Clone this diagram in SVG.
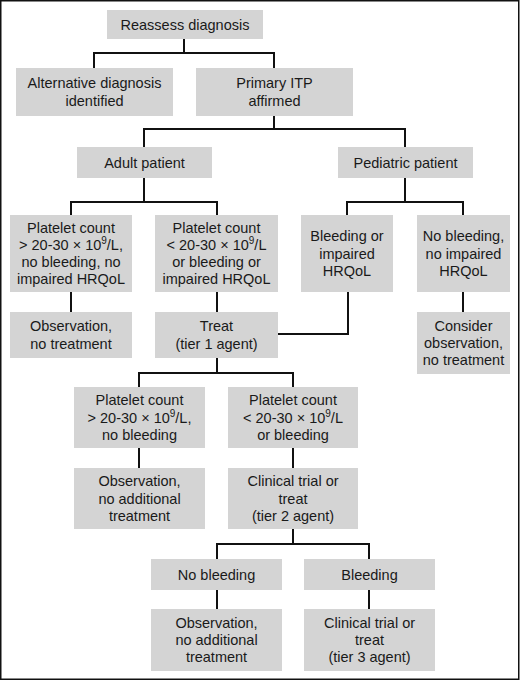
<svg xmlns="http://www.w3.org/2000/svg" width="520" height="681" viewBox="0 0 520 681">
<style>
.box{fill:#d4d4d4;}
.t{font-family:"Liberation Sans",Arial,sans-serif;font-size:14.5px;fill:#1a1a1a;text-anchor:middle;}
.sup{font-size:10px;}
.c{fill:none;stroke:#111;stroke-width:2;}
</style>
<rect x="0.75" y="0.75" width="518" height="678.5" fill="#fff" stroke="#111" stroke-width="1.5"/>
<g id="connectors">
<path class="c" d="M184,39V53M94,68V53H274V68"/>
<path class="c" d="M274,116V129M144,147V129H405V147"/>
<path class="c" d="M144,178V202M71,215V202H217V215"/>
<path class="c" d="M405,178V202M347,215V202H463V215"/>
<path class="c" d="M71,292V312M217,292V312M463,292V312"/>
<path class="c" d="M348,292V334H278"/>
<path class="c" d="M217,358V373M139,387V373H293V387"/>
<path class="c" d="M139,448V468M293,448V468"/>
<path class="c" d="M293,529V544M217,559V544H369V559"/>
<path class="c" d="M217,590V609M369,590V609"/>
</g>
<g id="reassess"><rect class="box" x="107" y="10" width="156" height="29"/><text class="t" x="185" y="29.5">Reassess diagnosis</text></g>
<g id="alternative"><rect class="box" x="16" y="68" width="157" height="48"/><text class="t" x="94.5" y="88.4">Alternative diagnosis</text><text class="t" x="94.5" y="105.7">identified</text></g>
<g id="primary"><rect class="box" x="196" y="68" width="157" height="48"/><text class="t" x="274.5" y="88.4">Primary ITP</text><text class="t" x="274.5" y="105.7">affirmed</text></g>
<g id="adult"><rect class="box" x="77" y="147" width="135" height="31"/><text class="t" x="144.5" y="167.5">Adult patient</text></g>
<g id="pediatric"><rect class="box" x="338" y="147" width="135" height="31"/><text class="t" x="405.5" y="167.5">Pediatric patient</text></g>
<g id="adult-high"><rect class="box" x="10" y="215" width="122" height="77"/>
<text class="t" x="71" y="232.5">Platelet count</text>
<text class="t" x="71" y="249.8">&gt; 20-30 × 10<tspan class="sup" dy="-6">9</tspan><tspan dy="6">/L,</tspan></text>
<text class="t" x="71" y="267.1">no bleeding, no</text>
<text class="t" x="71" y="284.4">impaired HRQoL</text></g>
<g id="adult-low"><rect class="box" x="155" y="215" width="123" height="77"/>
<text class="t" x="216.5" y="232.5">Platelet count</text>
<text class="t" x="216.5" y="249.8">&lt; 20-30 × 10<tspan class="sup" dy="-6">9</tspan><tspan dy="6">/L</tspan></text>
<text class="t" x="216.5" y="267.1">or bleeding or</text>
<text class="t" x="216.5" y="284.4">impaired HRQoL</text></g>
<g id="ped-bleeding"><rect class="box" x="301" y="215" width="92" height="77"/>
<text class="t" x="347" y="241.2">Bleeding or</text>
<text class="t" x="347" y="258.5">impaired</text>
<text class="t" x="347" y="275.8">HRQoL</text></g>
<g id="ped-nobleeding"><rect class="box" x="417" y="215" width="93" height="77"/>
<text class="t" x="463.5" y="241.2">No bleeding,</text>
<text class="t" x="463.5" y="258.5">no impaired</text>
<text class="t" x="463.5" y="275.8">HRQoL</text></g>
<g id="obs1"><rect class="box" x="10" y="312" width="122" height="46"/>
<text class="t" x="71" y="331.4">Observation,</text>
<text class="t" x="71" y="348.7">no treatment</text></g>
<g id="treat1"><rect class="box" x="155" y="312" width="123" height="46"/>
<text class="t" x="216.5" y="331.4">Treat</text>
<text class="t" x="216.5" y="348.7">(tier 1 agent)</text></g>
<g id="consider"><rect class="box" x="417" y="312" width="93" height="62"/>
<text class="t" x="463.5" y="330.7">Consider</text>
<text class="t" x="463.5" y="348">observation,</text>
<text class="t" x="463.5" y="365.3">no treatment</text></g>
<g id="t1-high"><rect class="box" x="74" y="387" width="131" height="61"/>
<text class="t" x="139.5" y="405.2">Platelet count</text>
<text class="t" x="139.5" y="422.5">&gt; 20-30 × 10<tspan class="sup" dy="-6">9</tspan><tspan dy="6">/L,</tspan></text>
<text class="t" x="139.5" y="439.8">no bleeding</text></g>
<g id="t1-low"><rect class="box" x="228" y="387" width="130" height="61"/>
<text class="t" x="293" y="405.2">Platelet count</text>
<text class="t" x="293" y="422.5">&lt; 20-30 × 10<tspan class="sup" dy="-6">9</tspan><tspan dy="6">/L</tspan></text>
<text class="t" x="293" y="439.8">or bleeding</text></g>
<g id="obs2"><rect class="box" x="74" y="468" width="131" height="61"/>
<text class="t" x="139.5" y="486.2">Observation,</text>
<text class="t" x="139.5" y="503.5">no additional</text>
<text class="t" x="139.5" y="520.8">treatment</text></g>
<g id="treat2"><rect class="box" x="228" y="468" width="130" height="61"/>
<text class="t" x="293" y="486.2">Clinical trial or</text>
<text class="t" x="293" y="503.5">treat</text>
<text class="t" x="293" y="520.8">(tier 2 agent)</text></g>
<g id="t2-nobleeding"><rect class="box" x="151" y="559" width="131" height="31"/><text class="t" x="216.5" y="579.5">No bleeding</text></g>
<g id="t2-bleeding"><rect class="box" x="304" y="559" width="131" height="31"/><text class="t" x="369.5" y="579.5">Bleeding</text></g>
<g id="obs3"><rect class="box" x="151" y="609" width="131" height="62"/>
<text class="t" x="216.5" y="627.7">Observation,</text>
<text class="t" x="216.5" y="645">no additional</text>
<text class="t" x="216.5" y="662.3">treatment</text></g>
<g id="treat3"><rect class="box" x="304" y="609" width="131" height="62"/>
<text class="t" x="369.5" y="627.7">Clinical trial or</text>
<text class="t" x="369.5" y="645">treat</text>
<text class="t" x="369.5" y="662.3">(tier 3 agent)</text></g>
</svg>
